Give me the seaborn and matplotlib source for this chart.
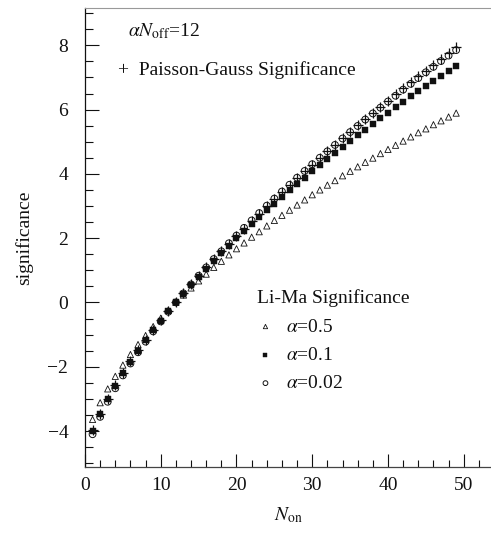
import numpy as np
import pandas as pd
import matplotlib
matplotlib.use("Agg")
import matplotlib.pyplot as plt
import seaborn as sns

# N_on values 1..49
n_on = list(range(1, 50))

# Poisson-Gauss significance (+)
sig_pg = [-3.96, -3.46, -3.00, -2.58, -2.20, -1.83, -1.49, -1.17, -0.86, -0.56,
          -0.27, 0.02, 0.30, 0.57, 0.83, 1.09, 1.34, 1.59, 1.83, 2.07,
          2.30, 2.53, 2.76, 2.99, 3.21, 3.43, 3.65, 3.87, 4.08, 4.29,
          4.50, 4.70, 4.91, 5.11, 5.31, 5.51, 5.71, 5.90, 6.09, 6.28,
          6.47, 6.66, 6.85, 7.03, 7.21, 7.40, 7.58, 7.76, 7.94]

# Li-Ma significance, alpha = 0.5
sig_a05 = [-3.64, -3.12, -2.69, -2.30, -1.95, -1.62, -1.31, -1.03, -0.75, -0.49,
           -0.24, 0.00, 0.23, 0.45, 0.67, 0.88, 1.09, 1.28, 1.48, 1.67,
           1.85, 2.03, 2.20, 2.38, 2.55, 2.71, 2.87, 3.03, 3.19, 3.35,
           3.50, 3.65, 3.79, 3.94, 4.08, 4.22, 4.36, 4.49, 4.63, 4.76,
           4.89, 5.02, 5.15, 5.28, 5.40, 5.53, 5.65, 5.77, 5.89]

# Li-Ma significance, alpha = 0.1
sig_a01 = [-4.01, -3.47, -3.01, -2.59, -2.21, -1.84, -1.50, -1.18, -0.87, -0.57,
           -0.28, 0.00, 0.27, 0.54, 0.79, 1.04, 1.29, 1.53, 1.76, 1.99,
           2.21, 2.44, 2.65, 2.87, 3.07, 3.28, 3.49, 3.69, 3.88, 4.08,
           4.27, 4.46, 4.65, 4.83, 5.01, 5.20, 5.37, 5.55, 5.73, 5.90,
           6.07, 6.24, 6.41, 6.57, 6.73, 6.89, 7.06, 7.21, 7.37]

# Li-Ma significance, alpha = 0.02
sig_a002 = [-4.10, -3.56, -3.09, -2.67, -2.27, -1.90, -1.55, -1.22, -0.90, -0.59,
            -0.29, 0.00, 0.28, 0.56, 0.83, 1.09, 1.35, 1.59, 1.84, 2.08,
            2.32, 2.55, 2.78, 3.01, 3.23, 3.45, 3.66, 3.88, 4.09, 4.30,
            4.50, 4.70, 4.90, 5.10, 5.30, 5.49, 5.69, 5.88, 6.06, 6.25,
            6.43, 6.62, 6.80, 6.98, 7.16, 7.33, 7.51, 7.68, 7.85]

legend_labels = [r"$\alpha$=0.5", r"$\alpha$=0.1", r"$\alpha$=0.02"]

sns.set_style("ticks")
plt.rcParams["font.family"] = ["Liberation Serif", "DejaVu Serif"]
plt.rcParams["mathtext.fontset"] = "stix"

fig = plt.figure(figsize=(4.91, 5.36), dpi=100)
ax = fig.add_axes([85 / 491, 1 - 467 / 536, 406 / 491, 459 / 536])

ink = "#111111"
fs = 14

sns.scatterplot(x=n_on, y=sig_a05, marker="^", s=20, facecolors="none",
                edgecolor=ink, linewidth=0.6, ax=ax, label=legend_labels[0], zorder=3)
sns.scatterplot(x=n_on, y=sig_a01, marker="s", s=16, color=ink,
                edgecolor=ink, linewidth=0.3, ax=ax, label=legend_labels[1], zorder=3)
sns.scatterplot(x=n_on, y=sig_a002, marker="o", s=24, facecolors="none",
                edgecolor=ink, linewidth=0.7, ax=ax, label=legend_labels[2], zorder=4)
sns.scatterplot(x=n_on, y=sig_pg, marker="+", s=50, color=ink,
                linewidth=0.9, ax=ax, zorder=5)

ax.set_xlim(0, 53.6)
ax.set_ylim(-5.12, 9.16)
ax.set_xticks(np.arange(0, 51, 10))
ax.set_xticks(np.arange(0, 54, 2), minor=True)
ax.set_yticks(np.arange(-4, 9, 2))
ax.set_yticks(np.arange(-5, 9.1, 0.5), minor=True)

ax.tick_params(axis="y", which="major", direction="in", length=10, width=0.8,
               pad=12, labelsize=fs, colors=ink, right=False)
ax.tick_params(axis="y", which="minor", direction="in", length=5.5, width=0.8,
               right=False, colors=ink)
ax.tick_params(axis="x", which="major", direction="in", length=9.5, width=0.8,
               pad=7, labelsize=fs, colors=ink, top=False)
ax.tick_params(axis="x", which="minor", direction="in", length=5, width=0.8,
               top=False, colors=ink)

ax.spines["right"].set_visible(False)
ax.spines["top"].set_color("#999999")
ax.spines["top"].set_linewidth(0.8)
ax.spines["left"].set_color(ink)
ax.spines["bottom"].set_color("#444444")
ax.spines["left"].set_linewidth(0.9)
ax.spines["bottom"].set_linewidth(0.9)

ax.set_xlabel(r"$N_{\rm on}$", fontsize=fs, color=ink, labelpad=8)
ax.set_ylabel("significance", fontsize=fs, color=ink, labelpad=10)

ax.text(0.106, 0.950, r"$\alpha N_{\rm off}$=12", transform=ax.transAxes,
        fontsize=fs, color=ink, ha="left", va="center")
ax.text(0.081, 0.865, "+  Paisson-Gauss Significance", transform=ax.transAxes,
        fontsize=fs, color=ink, ha="left", va="center")

handles, labels = ax.get_legend_handles_labels()
leg = ax.legend(handles, labels, title="Li-Ma Significance", loc="upper left",
                bbox_to_anchor=(0.399, 0.408), frameon=False, fontsize=fs,
                title_fontsize=fs, borderpad=0, handlelength=0.9,
                handletextpad=0.6, labelspacing=0.55, markerscale=0.7,
                alignment="left")
for t in leg.get_texts():
    t.set_color(ink)
leg.get_title().set_color(ink)

fig.savefig("out.png", dpi=100)
